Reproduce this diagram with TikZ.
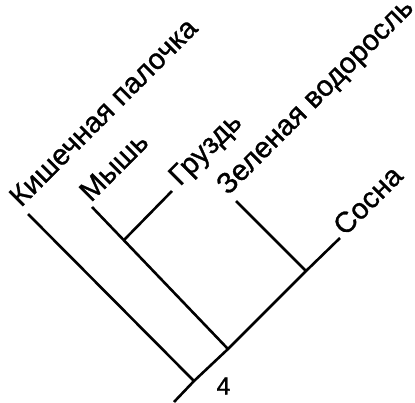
\documentclass[tikz,border=0pt]{standalone}
\usepackage{fontspec}
\setmainfont{Liberation Sans}
\newfontfamily\treefont{Liberation Sans}[RawFeature={embolden=1}]
\usetikzlibrary{positioning,calc}
\tikzset{
  branch/.style={line width=2.6pt},
  taxon/.style={rotate=45, anchor=base west, inner sep=0pt, font=\treefont\fontsize{29}{34}\selectfont},
  steplabel/.style={inner sep=0pt, font=\treefont\fontsize{25}{30}\selectfont}
}

\begin{document}
\begin{tikzpicture}[x=1pt, y=-1pt]
      \useasboundingbox (0,0) rectangle (415,402);
      % branch points
      \coordinate (r) at (174,402);
      \coordinate (n1) at (194,381);
      \coordinate (n2) at (228,349);
      \coordinate (n3) at (124,240);
      \coordinate (n4) at (306,271);
      % tips
      \coordinate (ecoli) at (28,214);
      \coordinate (mouse) at (92,207);
      \coordinate (milk) at (172,191);
      \coordinate (alga) at (236,201);
      \coordinate (pine) at (340,238);
      \draw[branch] (r) -- (n1) -- (n2) -- (n4) -- (pine);
      \draw[branch] (n1) -- (ecoli);
      \draw[branch] (n2) -- (mouse);
      \draw[branch] (n3) -- (milk);
      \draw[branch] (n4) -- (alga);
      % labels
      \node[taxon] (ecolilab) at (21,208) {Кишечная палочка};
      \node[taxon] (mouselab) at (91,203) {Мышь};
      \node[taxon] (milklab) at (180,187) {Груздь};
      \node[taxon] (algalab) at (228,196) {Зеленая водоросль};
      \node[taxon] (pinelab) at (345,237) {Сосна};
      \node[steplabel] (four) at (223.5,386) {4};
    \end{tikzpicture}
\end{document}
